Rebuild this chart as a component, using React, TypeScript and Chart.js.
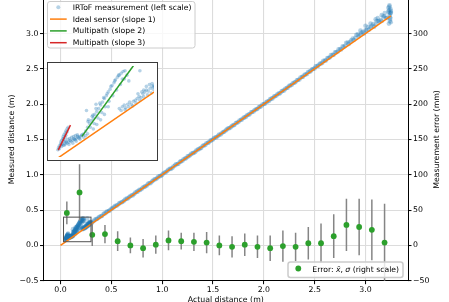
import React, { useEffect, useRef } from 'react';
import { Chart, registerables } from 'chart.js';
Chart.register(...registerables);

const FONT = '"DejaVu Sans", sans-serif';
const OY = 8; // main canvas is shifted up by this many px

// ---------------- data ----------------
// low-range measurements (shown in the inset)
const lowRangePoints: [number, number][] = [
  [0.048,0.080],[0.050,0.088],[0.052,0.095],[0.055,0.102],[0.056,0.109],[0.058,0.116],[0.061,0.123],[0.062,0.130],[0.064,0.137],[0.067,0.144],
  [0.069,0.151],[0.072,0.159],[0.075,0.166],[0.052,0.084],[0.057,0.098],[0.060,0.105],[0.063,0.120],[0.067,0.127],[0.069,0.135],[0.064,0.112],[0.072,0.148],
  [0.062,0.098],[0.067,0.102],[0.072,0.105],[0.077,0.109],[0.082,0.112],[0.087,0.116],[0.091,0.120],[0.096,0.123],[0.101,0.127],[0.106,0.130],
  [0.111,0.137],[0.069,0.112],[0.074,0.120],[0.079,0.123],[0.084,0.127],[0.089,0.130],[0.094,0.134],[0.099,0.137],[0.077,0.100],[0.087,0.105],
  [0.096,0.112],[0.106,0.120],[0.116,0.127],[0.121,0.134],[0.126,0.141],[0.058,0.092],[0.065,0.097],[0.070,0.108],[0.080,0.115],[0.090,0.122],
  [0.100,0.131],[0.110,0.133],[0.115,0.140],[0.104,0.124],[0.094,0.118],
  [0.121,0.151],[0.126,0.166],[0.131,0.180],[0.136,0.191],[0.141,0.201],[0.145,0.215],[0.150,0.226],[0.155,0.237],[0.160,0.251],[0.165,0.262],
  [0.170,0.276],[0.175,0.286],[0.180,0.301],[0.185,0.311],[0.190,0.325],[0.195,0.336],[0.199,0.347],[0.204,0.357],[0.209,0.365],[0.214,0.372],
  [0.219,0.379],[0.133,0.166],[0.143,0.180],[0.153,0.201],[0.163,0.222],[0.172,0.244],[0.182,0.265],[0.192,0.286],[0.202,0.308],[0.212,0.329],
  [0.222,0.350],[0.128,0.194],[0.138,0.208],[0.148,0.237],[0.158,0.258],[0.168,0.279],[0.177,0.294],[0.187,0.322],[0.197,0.343],[0.207,0.365],
  [0.217,0.350],[0.224,0.382],[0.229,0.365],[0.234,0.343],[0.141,0.159],[0.150,0.176],[0.160,0.194],[0.170,0.215],[0.180,0.244],[0.263,0.382],
  [0.127,0.188],[0.123,0.230],[0.140,0.212],[0.148,0.254],
  [0.209,0.237],[0.217,0.244],[0.222,0.251],[0.226,0.240],[0.231,0.254],[0.236,0.262],[0.241,0.254],[0.246,0.265],[0.251,0.269],[0.256,0.276],
  [0.261,0.283],[0.266,0.279],[0.271,0.294],[0.276,0.301],[0.280,0.308],[0.285,0.304],[0.290,0.315],[0.295,0.322],[0.298,0.311],[0.293,0.297],
  [0.283,0.290],[0.273,0.283],[0.263,0.269],[0.253,0.258],[0.244,0.247],[0.234,0.244],[0.224,0.233],[0.214,0.230],[0.280,0.322],[0.288,0.329],
  [0.295,0.333],[0.273,0.308],[0.268,0.301],[0.300,0.325],[0.258,0.294],
];

const bandRowA: [number, number][] = [
  [0.300,0.320],[0.325,0.341],[0.350,0.374],[0.375,0.393],[0.400,0.414],[0.425,0.447],[0.450,0.467],[0.475,0.487],[0.500,0.519],[0.525,0.540],
  [0.550,0.563],[0.575,0.593],[0.600,0.610],[0.625,0.633],[0.650,0.662],[0.675,0.680],[0.700,0.709],[0.725,0.728],[0.750,0.757],[0.775,0.786],
  [0.800,0.802],[0.825,0.831],[0.850,0.847],[0.875,0.883],[0.900,0.904],[0.925,0.935],[0.950,0.950],[0.975,0.980],[1.000,0.998],[1.025,1.032],
  [1.050,1.053],[1.075,1.084],[1.100,1.096],[1.125,1.131],[1.150,1.151],[1.175,1.183],[1.200,1.199],[1.225,1.230],[1.250,1.260],[1.275,1.277],
  [1.300,1.306],[1.325,1.322],[1.350,1.357],[1.375,1.377],[1.400,1.409],[1.425,1.423],[1.450,1.454],[1.475,1.483],[1.500,1.500],[1.525,1.531],
  [1.550,1.553],[1.575,1.570],[1.600,1.605],[1.625,1.626],[1.650,1.658],[1.675,1.671],[1.700,1.702],[1.725,1.731],[1.750,1.747],[1.775,1.779],
  [1.800,1.807],[1.825,1.823],[1.850,1.853],[1.875,1.884],[1.900,1.896],[1.925,1.927],[1.950,1.956],[1.975,1.969],[2.000,2.001],[2.025,2.030],
  [2.050,2.045],[2.075,2.078],[2.100,2.108],[2.125,2.122],[2.150,2.152],[2.175,2.182],[2.200,2.194],[2.225,2.229],[2.250,2.260],[2.275,2.273],
  [2.300,2.305],[2.325,2.337],[2.350,2.349],[2.375,2.383],[2.400,2.414],[2.425,2.428],[2.450,2.460],[2.475,2.493],[2.500,2.506],[2.525,2.540],
  [2.550,2.572],[2.575,2.584],[2.600,2.617],[2.625,2.653],[2.650,2.662],[2.675,2.699],[2.700,2.735],[2.725,2.741],[2.750,2.780],[2.775,2.817],
  [2.800,2.825],[2.825,2.873],[2.850,2.883],[2.875,2.930],[2.900,2.938],[2.925,2.987],[2.950,2.980],[2.975,3.025],[3.000,3.044],[3.025,3.093],
  [3.050,3.085],[3.075,3.133],[3.100,3.128],[3.125,3.177],[3.150,3.190],[3.175,3.245],[3.200,3.222],[3.225,3.310],[3.250,3.295],
];

const bandRowB: [number, number][] = [
  [0.310,0.322],[0.335,0.361],[0.360,0.375],[0.385,0.406],[0.410,0.419],[0.435,0.453],[0.460,0.484],[0.485,0.496],[0.510,0.526],[0.535,0.556],
  [0.560,0.569],[0.585,0.599],[0.610,0.616],[0.635,0.650],[0.660,0.663],[0.685,0.696],[0.710,0.708],[0.735,0.748],[0.760,0.764],[0.785,0.784],
  [0.810,0.819],[0.835,0.836],[0.860,0.871],[0.885,0.881],[0.910,0.917],[0.935,0.937],[0.960,0.972],[0.985,0.982],[1.010,1.018],[1.035,1.035],
  [1.060,1.070],[1.085,1.083],[1.110,1.116],[1.135,1.147],[1.160,1.155],[1.185,1.189],[1.210,1.219],[1.235,1.234],[1.260,1.263],[1.285,1.296],
  [1.310,1.308],[1.335,1.343],[1.360,1.361],[1.385,1.381],[1.410,1.415],[1.435,1.445],[1.460,1.459],[1.485,1.488],[1.510,1.519],[1.535,1.532],
  [1.560,1.568],[1.585,1.588],[1.610,1.608],[1.635,1.642],[1.660,1.659],[1.685,1.691],[1.710,1.704],[1.735,1.737],[1.760,1.769],[1.785,1.783],
  [1.810,1.812],[1.835,1.843],[1.860,1.855],[1.885,1.888],[1.910,1.917],[1.935,1.932],[1.960,1.961],[1.985,1.994],[2.010,2.006],[2.035,2.037],
  [2.060,2.067],[2.085,2.081],[2.110,2.111],[2.135,2.144],[2.160,2.153],[2.185,2.188],[2.210,2.218],[2.235,2.233],[2.260,2.264],[2.285,2.296],
  [2.310,2.310],[2.335,2.341],[2.360,2.376],[2.385,2.389],[2.410,2.419],[2.435,2.455],[2.460,2.467],[2.485,2.497],[2.510,2.536],[2.535,2.545],
  [2.560,2.574],[2.585,2.615],[2.610,2.618],[2.635,2.654],[2.660,2.694],[2.685,2.695],[2.710,2.732],[2.735,2.775],[2.760,2.774],[2.785,2.813],
  [2.810,2.870],[2.835,2.853],[2.860,2.905],[2.885,2.907],[2.910,2.980],[2.935,2.961],[2.960,3.012],[2.985,3.000],[3.010,3.050],[3.035,3.055],
  [3.060,3.108],[3.085,3.097],[3.110,3.175],[3.135,3.165],[3.160,3.178],[3.185,3.240],[3.210,3.220],[3.235,3.295],
];

const farEndPoints: [number, number][] = [
  [3.230,3.140],[3.240,3.180],[3.245,3.350],[3.235,3.380],[3.250,3.320],[3.238,3.260],[3.242,3.230],[3.248,3.160],[3.232,3.330],[3.246,3.290],
  [3.236,3.400],[3.244,3.210],[3.225,3.365],[3.190,3.290],[3.160,3.260],[3.100,3.200],[3.120,3.220],[3.050,3.140],[3.000,3.110],[2.950,3.040],
];

const idealLine: [number, number][] = [[0, 0], [3.25, 3.25]];
const multipathSlope2: [number, number][] = [[0.111, 0.131], [0.246, 0.401]];
const multipathSlope3: [number, number][] = [[0.049, 0.078], [0.081, 0.174]];

const errorX = [0.0625,0.1875,0.3125,0.4375,0.5625,0.6875,0.8125,0.9375,1.0625,1.1875,1.3125,1.4375,1.5625,
  1.6875,1.8125,1.9375,2.0625,2.1875,2.3125,2.4375,2.5625,2.6875,2.8125,2.9375,3.0625,3.1875];
const errorMeanMm = [46,75,15,16,6,0,-4,1,7,6,5,4,0,-2,1,-2,-4,-1,-2,3,3,13,29,26,22,4];
const errorSigmaMm = [16,40,16,13,14,11,13,13,14,12,13,15,14,15,16,16,18,22,20,23,28,31,37,40,43,55];

const insetXRange = [0.03, 0.30];
const insetYRange = [0.052, 0.40];

const legendLabels = ['IRToF measurement (left scale)', 'Ideal sensor (slope 1)', 'Multipath (slope 2)', 'Multipath (slope 3)'];

// ---------------- helpers ----------------
const toXY = (arr: [number, number][]) => arr.map(([x, y]) => ({ x, y }));
const fmt1 = (v: number) => (v < 0 ? '\u2212' : '') + Math.abs(v).toFixed(1);
const fmt0 = (v: number) => (v < 0 ? '\u2212' : '') + Math.abs(v).toFixed(0);

const BLUE = 'rgba(31,119,180,0.33)';
const ORANGE = '#ff7f0e';
const GREEN = '#2ca02c';
const RED = '#d62728';
const TICKFONT = { family: FONT, size: 7.8 };

function roundRect(ctx: CanvasRenderingContext2D, x: number, y: number, w: number, h: number, r: number) {
  ctx.beginPath();
  ctx.moveTo(x + r, y);
  ctx.lineTo(x + w - r, y);
  ctx.arcTo(x + w, y, x + w, y + r, r);
  ctx.lineTo(x + w, y + h - r);
  ctx.arcTo(x + w, y + h, x + w - r, y + h, r);
  ctx.lineTo(x + r, y + h);
  ctx.arcTo(x, y + h, x, y + h - r, r);
  ctx.lineTo(x, y + r);
  ctx.arcTo(x, y, x + r, y, r);
  ctx.closePath();
}

const mainPlugin = {
  id: 'mainDecor',
  beforeDatasetDraw(chart: any, args: any) {
    if (args.index !== 0) return;
    const { ctx, chartArea } = chart;
    const xs = chart.scales.x;
    const ys = chart.scales.y2;
    ctx.save();
    ctx.beginPath();
    ctx.rect(chartArea.left, chartArea.top, chartArea.right - chartArea.left, chartArea.bottom - chartArea.top);
    ctx.clip();
    ctx.strokeStyle = '#858585';
    ctx.lineWidth = 1.5;
    errorX.forEach((x, i) => {
      const px = xs.getPixelForValue(x);
      ctx.beginPath();
      ctx.moveTo(px, ys.getPixelForValue(errorMeanMm[i] + errorSigmaMm[i]));
      ctx.lineTo(px, ys.getPixelForValue(errorMeanMm[i] - errorSigmaMm[i]));
      ctx.stroke();
    });
    ctx.restore();
  },
  afterDatasetsDraw(chart: any) {
    const { ctx } = chart;
    const xs = chart.scales.x;
    const ys = chart.scales.y;
    const x0 = xs.getPixelForValue(insetXRange[0]);
    const x1 = xs.getPixelForValue(insetXRange[1]);
    const y0 = ys.getPixelForValue(insetYRange[0]);
    const y1 = ys.getPixelForValue(insetYRange[1]);
    ctx.save();
    ctx.strokeStyle = '#505050';
    ctx.lineWidth = 1;
    ctx.strokeRect(x0, y1, x1 - x0, y0 - y1);
    ctx.restore();
  },
  afterDraw(chart: any) {
    const { ctx, chartArea } = chart;
    ctx.save();
    // legend 1
    roundRect(ctx, 47.5, 1.5 + OY, 147.5, 46.5, 2.5);
    ctx.fillStyle = 'rgba(255,255,255,0.8)';
    ctx.fill();
    ctx.strokeStyle = '#cccccc';
    ctx.lineWidth = 1;
    ctx.stroke();
    const rows = [7.3, 19.1, 30.9, 42.7].map((r) => r + OY);
    ctx.font = `7.7px ${FONT}`;
    ctx.textBaseline = 'middle';
    ctx.textAlign = 'left';
    ctx.fillStyle = BLUE;
    ctx.beginPath();
    ctx.arc(58.3, rows[0], 2, 0, Math.PI * 2);
    ctx.fill();
    [ORANGE, GREEN, RED].forEach((c, i) => {
      ctx.strokeStyle = c;
      ctx.lineWidth = 1.5;
      ctx.beginPath();
      ctx.moveTo(50, rows[i + 1]);
      ctx.lineTo(66.7, rows[i + 1]);
      ctx.stroke();
    });
    ctx.fillStyle = '#000';
    legendLabels.forEach((t, i) => ctx.fillText(t, 72.7, rows[i] + 0.5));

    // legend 2
    roundRect(ctx, 288, 262 + OY, 115, 15.5, 2.5);
    ctx.fillStyle = 'rgba(255,255,255,0.8)';
    ctx.fill();
    ctx.strokeStyle = '#cccccc';
    ctx.stroke();
    ctx.fillStyle = GREEN;
    ctx.beginPath();
    ctx.arc(298.3, 268.5 + OY, 2.9, 0, Math.PI * 2);
    ctx.fill();
    ctx.fillStyle = '#000';
    const pieces: [string, boolean][] = [['Error: ', false], ['x\u0304', true], [', ', false], ['\u03c3', true], [' (right scale)', false]];
    let tx = 312.3;
    pieces.forEach(([t, it]) => {
      ctx.font = `${it ? 'italic ' : ''}7.7px ${FONT}`;
      ctx.fillText(t, tx, 269.8 + OY);
      tx += ctx.measureText(t).width;
    });

    // axis titles
    ctx.font = `7.8px ${FONT}`;
    ctx.textBaseline = 'alphabetic';
    ctx.textAlign = 'center';
    const midX = (chartArea.left + chartArea.right) / 2;
    const midY = (chartArea.top + chartArea.bottom) / 2;
    ctx.fillText('Actual distance (m)', midX, 302.4 + OY);
    ctx.save();
    ctx.translate(14.2, midY);
    ctx.rotate(-Math.PI / 2);
    ctx.fillText('Measured distance (m)', 0, 0);
    ctx.restore();
    ctx.save();
    ctx.translate(439, midY);
    ctx.rotate(-Math.PI / 2);
    ctx.fillText('Measurement error (mm)', 0, 0);
    ctx.restore();
    ctx.restore();
  },
};

const insetFrame = {
  id: 'insetFrame',
  afterDraw(chart: any) {
    const { ctx, width, height } = chart;
    ctx.save();
    ctx.strokeStyle = '#3a3a3a';
    ctx.lineWidth = 1;
    ctx.strokeRect(0.5, 0.5, width - 1, height - 1);
    ctx.restore();
  },
};

export default function App() {
  const mainRef = useRef<HTMLCanvasElement>(null);
  const insetRef = useRef<HTMLCanvasElement>(null);

  useEffect(() => {
    const measured = toXY([...lowRangePoints, ...bandRowA, ...bandRowB, ...farEndPoints]);
    const errPts = errorX.map((x, i) => ({ x, y: errorMeanMm[i] }));
    const gridCommon = { color: '#dcdcdc', lineWidth: 1.1, tickColor: '#000', tickLength: 3.5, tickWidth: 1 };
    const main = new Chart(mainRef.current!, {
      type: 'scatter',
      data: {
        datasets: [
          { label: 'Error', data: errPts, yAxisID: 'y2', backgroundColor: GREEN, borderWidth: 0, pointRadius: 2.9, order: 0 } as any,
          { type: 'line', label: 'Ideal', data: toXY(idealLine), yAxisID: 'y', borderColor: ORANGE, borderWidth: 1.5, pointRadius: 0, order: 1 } as any,
          { label: 'IRToF', data: measured, yAxisID: 'y', backgroundColor: BLUE, borderWidth: 0, pointRadius: 2.3, order: 2 } as any,
        ],
      },
      options: {
        animation: false,
        responsive: false,
        devicePixelRatio: 1,
        events: [],
        layout: { padding: { top: 5.6, left: 0, right: 0, bottom: 0 } },
        plugins: { legend: { display: false }, tooltip: { enabled: false } },
        scales: {
          x: {
            type: 'linear', min: -0.167, max: 3.418,
            ticks: { stepSize: 0.5, includeBounds: false, font: TICKFONT, color: '#000', padding: 1, maxRotation: 0, callback: (v: any) => fmt1(Number(v)) },
            grid: gridCommon,
            border: { color: '#000', width: 1 },
            afterFit: (s: any) => { s.height = 21.3; },
          },
          y: {
            type: 'linear', position: 'left', min: -0.5, max: 3.5,
            ticks: { stepSize: 0.5, includeBounds: false, font: TICKFONT, color: '#000', padding: 1.5, callback: (v: any) => fmt1(Number(v)) },
            grid: gridCommon,
            border: { color: '#000', width: 1 },
            afterFit: (s: any) => { s.width = 43.5; },
          },
          y2: {
            type: 'linear', position: 'right', min: -50, max: 350,
            ticks: { stepSize: 50, includeBounds: false, font: TICKFONT, color: '#000', padding: 1.5, callback: (v: any) => fmt0(Number(v)) },
            grid: { ...gridCommon, drawOnChartArea: false },
            border: { color: '#000', width: 1 },
            afterFit: (s: any) => { s.width = 41; },
          },
        },
      } as any,
      plugins: [mainPlugin],
    });

    const inset = new Chart(insetRef.current!, {
      type: 'scatter',
      data: {
        datasets: [
          { type: 'line', data: toXY(multipathSlope3), borderColor: RED, borderWidth: 1.5, pointRadius: 0, order: 0 } as any,
          { type: 'line', data: toXY(multipathSlope2), borderColor: GREEN, borderWidth: 1.5, pointRadius: 0, order: 1 } as any,
          { type: 'line', data: toXY(idealLine), borderColor: ORANGE, borderWidth: 1.5, pointRadius: 0, order: 2 } as any,
          { data: measured, backgroundColor: BLUE, borderWidth: 0, pointRadius: 1.8, order: 3 } as any,
        ],
      },
      options: {
        animation: false,
        responsive: false,
        devicePixelRatio: 1,
        events: [],
        layout: { padding: 0 },
        plugins: { legend: { display: false }, tooltip: { enabled: false } },
        scales: {
          x: { type: 'linear', display: false, min: insetXRange[0], max: insetXRange[1] },
          y: { type: 'linear', display: false, min: insetYRange[0], max: insetYRange[1] },
        },
      } as any,
      plugins: [insetFrame],
    });

    return () => {
      main.destroy();
      inset.destroy();
    };
  }, []);

  return (
    <div style={{ position: 'fixed', left: 0, top: 0, width: 449, height: 302, overflow: 'hidden', background: '#fff' }}>
      <canvas ref={mainRef} width={449} height={310} style={{ position: 'absolute', left: 0, top: -OY, width: 449, height: 310 }} />
      <canvas ref={insetRef} width={111} height={99} style={{ position: 'absolute', left: 47, top: 62, width: 111, height: 99, background: '#fff' }} />
    </div>
  );
}
